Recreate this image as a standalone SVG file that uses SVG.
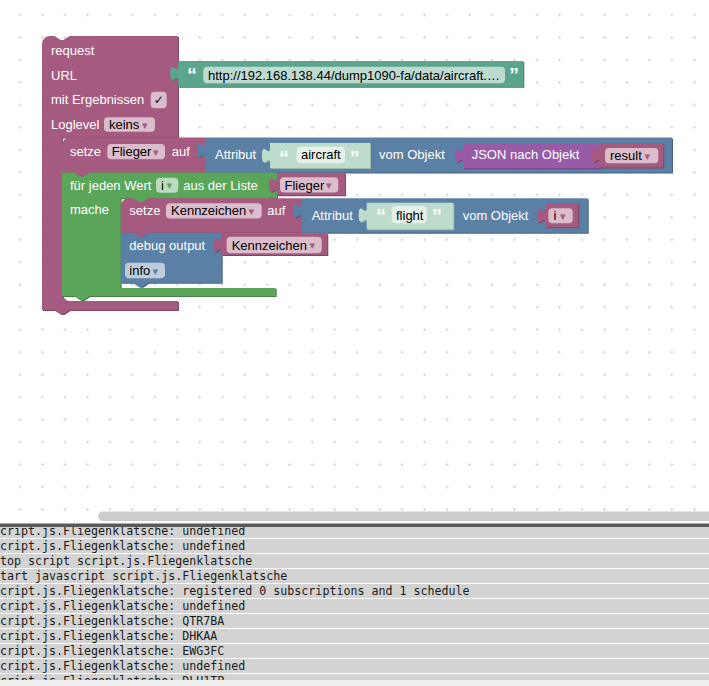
<svg xmlns="http://www.w3.org/2000/svg" width="709" height="686" viewBox="0 0 709 686">
<style>
.t{font-family:"Liberation Sans",Arial,sans-serif;font-size:13px;fill:#fff}
.ft{fill:#000}
.q{font-family:"Liberation Sans",Arial,sans-serif;font-weight:bold;font-size:20px;fill:#fff}
.ar{font-family:"DejaVu Sans",sans-serif;font-size:11px}
.pk{fill:#a55b80}.pkd{fill:#7f4562}
.bl{fill:#5b80a5}.bld{fill:#46637f}
.gr{fill:#5ba55b}.grd{fill:#467f46}
.pu{fill:#995ba5}.pud{fill:#75467f}
.tg{fill:#5ba58c}.tgd{fill:#467f6b}
.sh{fill:#bddccb}.shd{fill:#9cb8a8}
.fpk{fill:#dbbdcc}.fbl{fill:#bdccdb}.fgr{fill:#bddbbd}.ftg{fill:#bddbd1}.fsh{fill:#e5f1ea}
.log{font-family:"DejaVu Sans Mono",monospace;font-size:11.65px;fill:#1a1a1a}
</style>
<defs>
<pattern id="grid" width="22.48" height="22.48" patternUnits="userSpaceOnUse" x="18.5" y="13.5">
<path d="M0 1.5H3M1.5 0V3" stroke="#d6d6d6" stroke-width="1" fill="none"/>
</pattern>
<clipPath id="logclip"><rect x="0" y="527" width="709" height="153"/></clipPath>
</defs>
<rect x="0" y="0" width="709" height="686" fill="#fff"/>
<rect x="0" y="0" width="709" height="521" fill="url(#grid)"/>

<g id="request">
<path class="pkd" transform="translate(1,1)" d="M42,44a8,8 0 0 1 8,-8H54.5l6,4 3,0 6,-4H178V137.5H89.5l-6,4 -3,0 -6,-4H62V293a8,8 0 0 0 8,8H178V310H69.5l-6,4 -3,0 -6,-4H42Z"/>
<path class="pk" d="M42,44a8,8 0 0 1 8,-8H54.5l6,4 3,0 6,-4H178V137.5H89.5l-6,4 -3,0 -6,-4H62V293a8,8 0 0 0 8,8H178V310H69.5l-6,4 -3,0 -6,-4H42Z"/>
<text class="t" x="51" y="54.5">request</text>
<text class="t" x="51" y="79.5">URL</text>
<text class="t" x="51" y="104">mit Ergebnissen</text>
<rect class="fpk" x="150.7" y="91.7" width="16" height="16.6" rx="4"/>
<text class="ft" x="158.7" y="104" font-family="DejaVu Sans,sans-serif" font-size="12" text-anchor="middle">✓</text>
<text class="t" x="51" y="129">Loglevel</text>
<rect class="fpk" x="104" y="117.3" width="51" height="14.4" rx="4"/>
<text class="t ft" x="109" y="129">keins</text>
<text class="ar pk" x="142" y="128.5">▾</text>
</g>

<g id="url">
<path class="tgd" transform="translate(1,1)" d="M178.3,61H523.3V86.7H178.3V81c0,-10 -8,8 -8,-7.5s8,2.5 8,-7.5Z"/>
<path class="tg" d="M178.3,61H523.3V86.7H178.3V81c0,-10 -8,8 -8,-7.5s8,2.5 8,-7.5Z"/>
<text class="q" x="187" y="82">“</text>
<rect class="ftg" x="203.3" y="66.7" width="301.7" height="16.6" rx="4"/>
<text class="t ft" x="208" y="80">http://192.168.138.44/dump1090-fa/data/aircraft.…</text>
<text class="q" x="509" y="82">”</text>
</g>

<g id="setze-flieger">
<path class="pkd" transform="translate(1,1)" d="M62,145.5a8,8 0 0 1 8,-8H74.5l6,4 3,0 6,-4H205V172.5H89.5l-6,4 -3,0 -6,-4H62Z"/>
<path class="pk" d="M62,145.5a8,8 0 0 1 8,-8H74.5l6,4 3,0 6,-4H205V172.5H89.5l-6,4 -3,0 -6,-4H62Z"/>
<text class="t" x="70" y="156">setze</text>
<rect class="fpk" x="107.3" y="144" width="57.7" height="15.3" rx="4"/>
<text class="t ft" x="111.7" y="156">Flieger</text>
<text class="ar pk" x="153" y="155.5">▾</text>
<text class="t" x="171.7" y="156">auf</text>
</g>

<g id="attribut-1">
<path class="bld" transform="translate(1,1)" d="M205,137.5H672V172.5H205V157.5c0,-10 -8,8 -8,-7.5s8,2.5 8,-7.5Z"/>
<path class="bl" d="M205,137.5H672V172.5H205V157.5c0,-10 -8,8 -8,-7.5s8,2.5 8,-7.5Z"/>
<text class="t" x="215" y="159">Attribut</text>
<text class="t" x="379" y="158.7">vom Objekt</text>
</g>

<g id="text-aircraft">
<path class="shd" transform="translate(1,1)" d="M270,143H370V168H270V163c0,-10 -8,8 -8,-7.5s8,2.5 8,-7.5Z"/>
<path class="sh" d="M270,143H370V168H270V163c0,-10 -8,8 -8,-7.5s8,2.5 8,-7.5Z"/>
<text class="q" x="279" y="164.5">“</text>
<rect class="fsh" x="296.7" y="146.7" width="48.3" height="16.6" rx="4"/>
<text class="t ft" x="301" y="159.3">aircraft</text>
<text class="q" x="349.5" y="164.5">”</text>
</g>

<g id="json">
<path class="pud" transform="translate(1,1)" d="M463,143H600V168.3H463V163c0,-10 -8,8 -8,-7.5s8,2.5 8,-7.5Z"/>
<path class="pu" d="M463,143H600V168.3H463V163c0,-10 -8,8 -8,-7.5s8,2.5 8,-7.5Z"/>
<text class="t" x="471.7" y="159.3">JSON nach Objekt</text>
</g>

<g id="var-result">
<path class="pkd" transform="translate(1,1)" d="M600,143H663.3V167.5H600V163c0,-10 -8,8 -8,-7.5s8,2.5 8,-7.5Z"/>
<path class="pk" d="M600,143H663.3V167.5H600V163c0,-10 -8,8 -8,-7.5s8,2.5 8,-7.5Z"/>
<rect class="fpk" x="605" y="148" width="53.3" height="15.3" rx="4"/>
<text class="t ft" x="610" y="160">result</text>
<text class="ar pk" x="644.5" y="159.5">▾</text>
</g>

<g id="for-each">
<path class="grd" transform="translate(1,1)" d="M62,172.5H74.5l6,4 3,0 6,-4H277V198.3H148.2l-6,4 -3,0 -6,-4H120.7V288H275.7V296H89.5l-6,4 -3,0 -6,-4H62Z"/>
<path class="gr" d="M62,172.5H74.5l6,4 3,0 6,-4H277V198.3H148.2l-6,4 -3,0 -6,-4H120.7V288H275.7V296H89.5l-6,4 -3,0 -6,-4H62Z"/>
<text class="t" x="70" y="190">für jeden Wert</text>
<rect class="fgr" x="156" y="177.7" width="22.3" height="15" rx="4"/>
<text class="t ft" x="161" y="189.7">i</text>
<text class="ar gr" x="166.5" y="189.2">▾</text>
<text class="t" x="183.3" y="190">aus der Liste</text>
<text class="t" x="70" y="214">mache</text>
</g>

<g id="var-flieger">
<path class="pkd" transform="translate(1,1)" d="M277,172.7H345V195.3H277V192.7c0,-10 -8,8 -8,-7.5s8,2.5 8,-7.5Z"/>
<path class="pk" d="M277,172.7H345V195.3H277V192.7c0,-10 -8,8 -8,-7.5s8,2.5 8,-7.5Z"/>
<rect class="fpk" x="280" y="177.2" width="58.3" height="15.3" rx="4"/>
<text class="t ft" x="284.5" y="189.5">Flieger</text>
<text class="ar pk" x="326" y="189">▾</text>
</g>

<g id="setze-kennzeichen">
<path class="pkd" transform="translate(1,1)" d="M120.7,206.3a8,8 0 0 1 8,-8H133.2l6,4 3,0 6,-4H301.7V232.7H148.2l-6,4 -3,0 -6,-4H120.7Z"/>
<path class="pk" d="M120.7,206.3a8,8 0 0 1 8,-8H133.2l6,4 3,0 6,-4H301.7V232.7H148.2l-6,4 -3,0 -6,-4H120.7Z"/>
<text class="t" x="129.3" y="215">setze</text>
<rect class="fpk" x="166" y="203.3" width="95.7" height="15.3" rx="4"/>
<text class="t ft" x="171" y="215.3">Kennzeichen</text>
<text class="ar pk" x="248.5" y="214.8">▾</text>
<text class="t" x="267.3" y="215">auf</text>
</g>

<g id="attribut-2">
<path class="bld" transform="translate(1,1)" d="M301.7,198.3H587.7V232.7H301.7V218.3c0,-10 -8,8 -8,-7.5s8,2.5 8,-7.5Z"/>
<path class="bl" d="M301.7,198.3H587.7V232.7H301.7V218.3c0,-10 -8,8 -8,-7.5s8,2.5 8,-7.5Z"/>
<text class="t" x="311.7" y="220">Attribut</text>
<text class="t" x="462.7" y="219.5">vom Objekt</text>
</g>

<g id="text-flight">
<path class="shd" transform="translate(1,1)" d="M366.7,202.7H453.3V229.3H366.7V222.7c0,-10 -8,8 -8,-7.5s8,2.5 8,-7.5Z"/>
<path class="sh" d="M366.7,202.7H453.3V229.3H366.7V222.7c0,-10 -8,8 -8,-7.5s8,2.5 8,-7.5Z"/>
<text class="q" x="376" y="222.5">“</text>
<rect class="fsh" x="391.7" y="206" width="35" height="17.3" rx="4"/>
<text class="t ft" x="396" y="219.8">flight</text>
<text class="q" x="432" y="222.5">”</text>
</g>

<g id="var-i">
<path class="pkd" transform="translate(1,1)" d="M545,203.3H578.3V227.3H545V223.3c0,-10 -8,8 -8,-7.5s8,2.5 8,-7.5Z"/>
<path class="pk" d="M545,203.3H578.3V227.3H545V223.3c0,-10 -8,8 -8,-7.5s8,2.5 8,-7.5Z"/>
<rect class="fpk" x="548.3" y="208.3" width="24.4" height="15" rx="4"/>
<text class="t ft" x="553.5" y="220.3">i</text>
<text class="ar pk" x="560" y="219.8">▾</text>
</g>

<g id="debug-output">
<path class="bld" transform="translate(1,1)" d="M120.7,232.7H133.2l6,4 3,0 6,-4H221.7V282.7H148.2l-6,4 -3,0 -6,-4H120.7Z"/>
<path class="bl" d="M120.7,232.7H133.2l6,4 3,0 6,-4H221.7V282.7H148.2l-6,4 -3,0 -6,-4H120.7Z"/>
<text class="t" x="129.3" y="250">debug output</text>
<rect class="fbl" x="125" y="262.7" width="40" height="15.6" rx="4"/>
<text class="t ft" x="129.3" y="275">info</text>
<text class="ar bl" x="152.5" y="274.5">▾</text>
</g>

<g id="var-kennzeichen">
<path class="pkd" transform="translate(1,1)" d="M221.7,233.3H327.3V255H221.7V252.3c0,-10 -8,8 -8,-7.5s8,2.5 8,-7.5Z"/>
<path class="pk" d="M221.7,233.3H327.3V255H221.7V252.3c0,-10 -8,8 -8,-7.5s8,2.5 8,-7.5Z"/>
<rect class="fpk" x="226.7" y="236.7" width="95" height="16.6" rx="4"/>
<text class="t ft" x="231.7" y="249.7">Kennzeichen</text>
<text class="ar pk" x="309.5" y="249.2">▾</text>
</g>

<g id="connectors"></g>

<g id="scrollbar">
<rect x="98" y="511.5" width="625" height="9.5" rx="4.75" fill="#cccccc"/>
</g>

<g id="log">
<rect x="0" y="527" width="709" height="153" fill="#d3d3d3"/>
<g fill="#ffffff">
<rect x="0" y="538" width="709" height="1"/><rect x="0" y="553" width="709" height="1"/>
<rect x="0" y="568" width="709" height="1"/><rect x="0" y="583" width="709" height="1"/>
<rect x="0" y="598" width="709" height="1"/><rect x="0" y="613" width="709" height="1"/>
<rect x="0" y="628" width="709" height="1"/><rect x="0" y="643" width="709" height="1"/>
<rect x="0" y="658" width="709" height="1"/><rect x="0" y="673" width="709" height="1"/>
</g>
<g clip-path="url(#logclip)" class="log">
<text x="0" y="535">cript.js.Fliegenklatsche: undefined</text>
<text x="0" y="550">cript.js.Fliegenklatsche: undefined</text>
<text x="0" y="565">top script script.js.Fliegenklatsche</text>
<text x="0" y="580">tart javascript script.js.Fliegenklatsche</text>
<text x="0" y="595">cript.js.Fliegenklatsche: registered 0 subscriptions and 1 schedule</text>
<text x="0" y="610">cript.js.Fliegenklatsche: undefined</text>
<text x="0" y="625">cript.js.Fliegenklatsche: QTR7BA</text>
<text x="0" y="640">cript.js.Fliegenklatsche: DHKAA</text>
<text x="0" y="655">cript.js.Fliegenklatsche: EWG3FC</text>
<text x="0" y="670">cript.js.Fliegenklatsche: undefined</text>
<text x="0" y="685">cript.js.Fliegenklatsche: DLH1TP</text>
</g>
<rect x="0" y="680" width="709" height="6" fill="#efefef"/>
<rect x="0" y="523.5" width="709" height="3.5" fill="#595959"/>
</g>
</svg>
